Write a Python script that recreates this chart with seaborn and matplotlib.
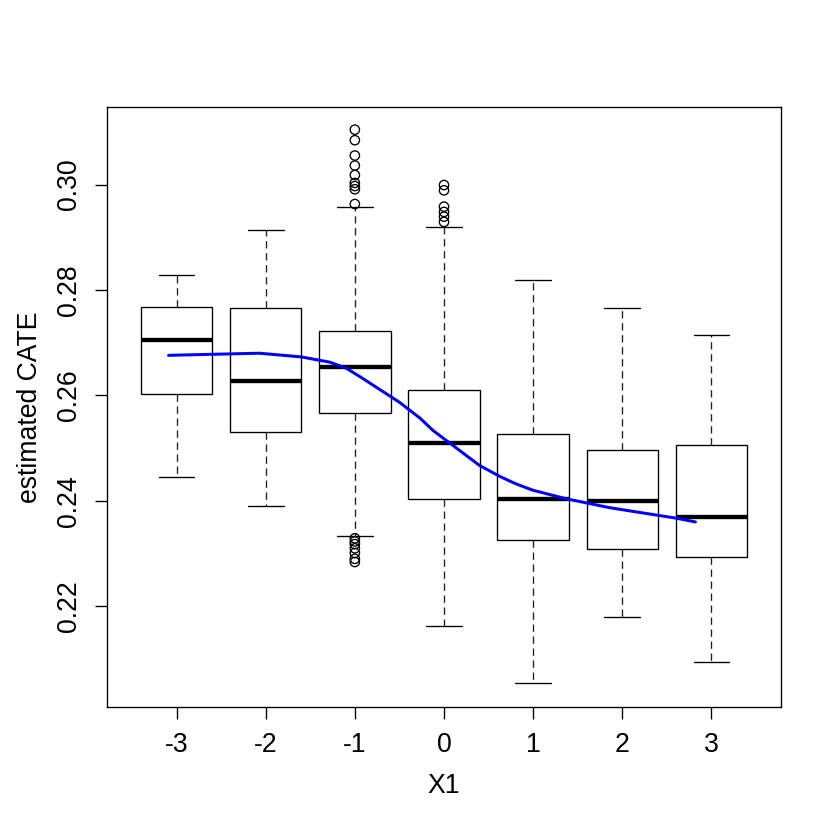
import numpy as np
import pandas as pd
import matplotlib
matplotlib.use("Agg")
import matplotlib.pyplot as plt
import seaborn as sns

# ---- data ----
categories = ["-3", "-2", "-1", "0", "1", "2", "3"]
whisker_low = [0.2446, 0.2391, 0.2333, 0.2163, 0.2054, 0.2179, 0.2094]
q1 = [0.2603, 0.2530, 0.2566, 0.2403, 0.2326, 0.2309, 0.2293]
median = [0.2706, 0.2628, 0.2653, 0.2510, 0.2403, 0.2399, 0.2369]
q3 = [0.2768, 0.2765, 0.2722, 0.2611, 0.2526, 0.2497, 0.2506]
whisker_high = [0.2828, 0.2913, 0.2958, 0.2920, 0.2818, 0.2766, 0.2715]

outlier_cat = (["-1"] * 9 + ["-1"] * 7 + ["0"] * 6)
outlier_val = [0.3104, 0.3084, 0.3055, 0.3036, 0.3018, 0.3003, 0.2997, 0.2991, 0.2963,
               0.2329, 0.2323, 0.2318, 0.2310, 0.2301, 0.2290, 0.2284,
               0.2999, 0.2989, 0.2958, 0.2948, 0.2939, 0.2929]

line_x1 = [-3.09, -2.59, -2.07, -1.60, -1.28, -1.09, -0.91, -0.50, -0.27, -0.12,
           0.07, 0.25, 0.40, 0.63, 0.81, 1.00, 1.37, 1.60, 1.86, 2.12, 2.61, 2.82]
line_y = [0.2676, 0.2678, 0.2680, 0.2673, 0.2663, 0.2651, 0.2632, 0.2587, 0.2557,
          0.2533, 0.2509, 0.2486, 0.2467, 0.2446, 0.2432, 0.2420, 0.2404, 0.2396,
          0.2387, 0.2380, 0.2367, 0.2360]

ytick_vals = [0.22, 0.24, 0.26, 0.28, 0.30]
ytick_labels = ["0.22", "0.24", "0.26", "0.28", "0.30"]

# ---- build long table (five-number summary per group) ----
rows = []
for i, c in enumerate(categories):
    for v in (whisker_low[i], q1[i], median[i], q3[i], whisker_high[i]):
        rows.append({"X1": c, "value": v})
df = pd.DataFrame(rows)
out_df = pd.DataFrame({"X1": outlier_cat, "value": outlier_val})

sns.set_style("ticks")
plt.rcParams["font.family"] = ["Liberation Sans", "DejaVu Sans"]
plt.rcParams["axes.labelcolor"] = "black"
plt.rcParams["text.color"] = "black"

fig = plt.figure(figsize=(7, 7), dpi=120)
ax = fig.add_axes([107 / 840, 1 - 707 / 840, 674 / 840, 600 / 840])

lw = 0.8
sns.boxplot(data=df, x="X1", y="value", order=categories, whis=(0, 100),
            width=0.8, showfliers=False, color="white", linecolor="black",
            linewidth=lw, saturation=1,
            boxprops={"facecolor": "white", "edgecolor": "black", "linewidth": lw},
            medianprops={"color": "black", "linewidth": 2.6},
            whiskerprops={"color": "#222222", "linewidth": lw, "linestyle": (0, (5.5, 3.5))},
            capprops={"color": "black", "linewidth": lw},
            ax=ax)

sns.stripplot(data=out_df, x="X1", y="value", order=categories, jitter=False,
              marker="o", size=5.6, color="white", edgecolor="black",
              linewidth=0.8, ax=ax, zorder=5)
for coll in ax.collections:
    coll.set_facecolor("none")
    coll.set_edgecolor("black")

sns.lineplot(x=np.array(line_x1) + 3, y=line_y, color="#0000FF", linewidth=1.8,
             ax=ax, zorder=6)

ax.set_xlim(-0.78, 6.78)
ax.set_ylim(0.2009, 0.3147)
ax.set_xticks(range(len(categories)))
ax.set_xticklabels(categories)
ax.set_yticks(ytick_vals)
ax.set_yticklabels(ytick_labels, rotation=90, va="center")

for s in ax.spines.values():
    s.set_visible(True)
    s.set_color("black")
    s.set_linewidth(lw)

ax.tick_params(axis="both", length=7.2, width=lw, color="black",
               labelsize=16, pad=8, labelcolor="black")
ax.set_xlabel("X1", fontsize=16, color="black")
ax.set_ylabel("estimated CATE", fontsize=16, color="black")
ax.xaxis.set_label_coords(0.5, -0.11)
ax.yaxis.set_label_coords(-0.095, 0.5)

fig.savefig("out.png", dpi=120, facecolor="white")
